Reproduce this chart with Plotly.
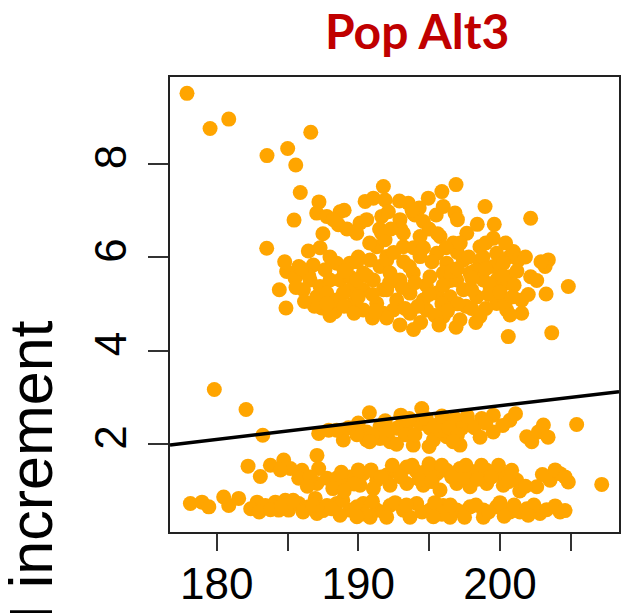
import plotly.graph_objects as go

# ---- data ----
x_vals = [
    177.90, 179.53, 180.85, 186.64, 183.55, 185.01, 185.58, 185.90, 187.22, 185.46,
    183.53, 186.47, 184.94, 185.53, 184.42, 184.89, 187.06, 187.77, 188.71, 188.59,
    188.24, 190.48, 191.06, 190.12, 189.89, 190.59, 191.65, 191.77, 191.89, 191.65,
    191.30, 190.83, 186.82, 187.65, 188.47, 189.41, 186.59, 186.12, 187.30, 187.06,
    187.42, 188.35, 188.47, 188.00, 188.71, 189.41, 189.41, 189.65, 190.35, 190.35,
    190.35, 191.06, 191.53, 191.77, 191.30, 191.77, 187.77, 188.94, 189.89, 192.01,
    191.89,
    196.90, 194.94, 196.00, 196.83, 198.95, 193.53, 192.12, 192.94, 194.59, 193.88,
    197.66, 199.53, 195.77, 193.18, 194.36, 196.71, 198.59, 200.71, 199.77, 192.01,
    193.18, 194.36, 195.54, 196.24, 197.42, 198.59, 199.53, 192.24, 192.94, 193.88,
    195.06, 196.00, 196.95, 197.89, 198.83, 199.77, 200.71, 192.01, 192.71, 193.65,
    194.59, 195.54, 196.48, 197.42, 198.36, 199.30, 199.77, 200.48, 192.47, 193.65,
    194.83, 196.00, 197.18, 192.94, 198.59, 200.59,
    193.20, 194.80, 195.90, 197.00, 198.00, 193.90, 195.00, 196.50, 197.60, 194.20,
    202.17, 200.95, 200.24, 201.30, 203.42, 203.19, 202.17, 200.36, 204.83, 203.26,
    200.36, 201.54, 201.54, 200.71, 203.66,
    # extra points in the dense upper cluster
    190.0, 190.8, 191.5, 192.5, 193.0, 193.6, 194.0, 194.6, 195.2, 195.6,
    196.2, 196.6, 197.2, 197.8, 198.2, 198.8, 199.2, 199.0, 198.0, 197.0,
    196.3, 195.4, 194.4, 193.3, 192.0, 191.0, 190.6, 189.9, 189.0, 188.0,
    187.3, 186.5, 185.8, 186.9, 188.0, 189.0, 190.0, 191.0, 192.2, 193.1,
    194.0, 195.0, 196.0, 197.0, 198.0, 199.0, 200.0, 200.2, 201.0, 201.2,
    202.0, 201.8, 199.6, 198.4, 197.0, 195.5, 194.3, 192.9, 192.3, 189.2,
    189.0, 187.5, 195.9, 193.8, 199.0, 200.4, 198.3, 196.9, 195.7, 193.9,
    191.2, 189.7, 187.8, 186.2, 185.6, 186.0, 184.8, 200.9, 202.6, 202.9,
    # lower region
    203.07, 205.42, 201.89, 202.25, 202.71, 207.19, 200.48, 201.19, 202.60, 203.54,
    204.25, 204.83, 200.24, 201.42, 202.83, 204.25,
    179.83, 182.07, 183.25, 182.21, 183.08, 183.79, 184.73, 185.20, 186.02, 185.79,
    187.08, 187.20, 187.08, 187.79, 187.20, 187.91, 178.14, 178.96, 179.44, 180.49,
    180.85, 181.55, 182.85, 183.43, 184.14, 184.84, 185.08, 185.79, 186.50, 186.96,
    187.08, 187.79, 184.38,
    190.78, 193.00, 194.48, 196.83, 198.71, 199.53, 200.71, 199.53, 190.59, 191.53,
    192.71, 193.42, 194.36, 195.06, 196.00, 197.30, 197.89, 190.59, 192.24, 193.88,
    195.30, 196.24, 197.18, 188.94, 188.47, 191.53, 195.77,
    188.47, 189.41, 190.35, 191.30, 192.01, 192.71, 193.42, 194.12, 194.83, 195.54,
    196.24, 197.18, 198.12, 199.07, 200.01, 200.83, 188.94, 190.12, 191.06, 192.24,
    193.42, 194.59, 195.77, 196.95, 197.89, 199.07, 200.24,
    188.47, 189.41, 190.35, 191.30, 192.24, 193.18, 194.12, 195.06, 196.00, 196.95,
    197.89, 198.83, 199.77, 200.71, 188.71, 190.83, 193.65, 196.48, 198.83,
    # extra points, bottom band
    182.4, 183.0, 183.8, 184.6, 185.4, 186.1, 186.8, 187.5, 188.1, 188.9,
    189.9, 190.5, 191.0, 191.8, 192.6, 193.4, 194.5, 195.4, 195.9, 196.5,
    197.4, 198.3, 199.2, 200.0, 201.0, 201.9, 202.4, 203.3, 203.9, 204.6,
    189.9, 192.0, 195.3, 197.5, 200.3, 202.0,
    # extra points, middle band
    188.8, 189.7, 190.0, 190.9, 191.6, 192.4, 193.0, 193.8, 194.3, 195.0,
    195.2, 195.9, 196.6, 197.5, 197.6, 198.4, 198.7, 199.4, 199.9, 200.6,
    201.4, 201.8, 203.0, 203.9, 204.6, 188.2, 189.0, 186.6, 186.4, 184.5,
    # extra points, upper lower group
    189.3, 189.9, 190.0, 191.0, 191.9, 192.2, 193.3, 193.6, 194.0, 194.8,
    195.4, 195.9, 196.4, 197.0, 197.7, 198.2, 198.6, 199.0, 200.2, 201.1,
    203.4, 190.8, 192.7, 195.0, 196.7,
]
y_vals = [
    9.50, 8.75, 8.95, 8.67, 8.17, 8.32, 7.97, 7.38, 7.18, 6.79,
    6.19, 6.13, 5.69, 5.55, 5.30, 4.91, 6.94, 6.87, 6.97, 6.69,
    6.80, 7.19, 7.26, 6.73, 6.51, 6.80, 6.87, 7.51, 7.22, 6.51,
    6.22, 5.94, 5.83, 5.73, 5.87, 5.87, 5.51, 5.30, 5.37, 5.15,
    4.91, 4.83, 5.08, 5.51, 5.51, 5.58, 5.30, 5.01, 4.87, 5.30,
    5.66, 5.51, 5.80, 5.30, 5.01, 4.80, 5.23, 5.23, 5.51, 6.01,
    6.37,
    7.55, 7.26, 7.08, 6.94, 7.08, 7.15, 6.97, 6.80, 6.76, 6.94,
    6.51, 6.40, 6.44, 6.51, 6.44, 6.30, 6.22, 6.01, 6.08, 5.94,
    6.22, 6.01, 6.08, 5.87, 5.94, 5.87, 5.80, 5.66, 5.51, 5.66,
    5.58, 5.66, 5.51, 5.66, 5.51, 5.51, 5.58, 5.30, 5.08, 5.23,
    5.08, 5.23, 5.15, 5.30, 5.15, 5.37, 5.01, 4.87, 4.87, 4.80,
    4.87, 4.73, 4.66, 4.55, 4.73, 4.30,
    5.90, 5.40, 5.00, 6.10, 5.30, 6.20, 6.60, 5.50, 4.95, 4.95,
    6.83, 6.12, 5.87, 5.94, 5.94, 5.80, 5.58, 5.44, 5.37, 5.21,
    5.01, 5.08, 4.80, 4.76, 4.38,
    # extra points in the dense upper cluster
    6.00, 6.30, 6.60, 6.10, 6.60, 5.80, 6.90, 6.20, 5.90, 6.50,
    6.20, 5.70, 6.30, 6.00, 5.70, 6.00, 5.20, 4.90, 4.90, 5.00,
    4.85, 4.75, 4.60, 4.90, 4.70, 5.20, 5.60, 5.90, 5.70, 6.00,
    6.20, 5.60, 5.80, 4.95, 4.75, 4.95, 5.15, 4.70, 5.45, 5.35,
    5.45, 5.20, 5.40, 5.75, 5.55, 5.75, 5.25, 5.60, 5.40, 5.70,
    5.20, 6.00, 6.70, 6.70, 6.80, 6.90, 7.05, 7.20, 6.60, 6.60,
    7.00, 6.50, 7.40, 7.00, 6.30, 6.30, 4.60, 4.50, 4.55, 4.45,
    4.85, 4.80, 5.00, 5.05, 5.35, 5.75, 5.90, 5.15, 5.50, 5.90,
    # lower region
    2.41, 2.42, 2.16, 2.05, 2.26, 1.14, 1.34, 1.23, 1.09, 1.23,
    1.37, 1.19, 0.59, 0.55, 0.52, 0.55,
    3.17, 2.74, 2.19, 1.53, 1.31, 1.55, 1.66, 1.48, 1.44, 1.27,
    1.76, 1.48, 1.16, 1.27, 2.23, 2.30, 0.73, 0.76, 0.66, 0.87,
    0.69, 0.84, 0.76, 0.69, 0.76, 0.80, 0.59, 0.73, 0.66, 0.84,
    0.52, 0.69, 0.59,
    2.67, 2.62, 2.76, 2.55, 2.55, 2.62, 2.51, 2.26, 2.26, 2.37,
    2.34, 2.41, 2.44, 2.34, 2.44, 2.34, 2.41, 2.09, 2.05, 1.98,
    2.09, 2.16, 1.98, 2.09, 2.30, 2.12, 2.30,
    1.27, 1.30, 1.37, 1.23, 1.34, 1.41, 1.51, 1.41, 1.44, 1.37,
    1.44, 1.48, 1.41, 1.44, 1.37, 1.44, 1.12, 1.12, 1.05, 1.12,
    1.16, 1.12, 1.02, 1.16, 1.09, 1.16, 1.12,
    0.73, 0.59, 0.73, 0.59, 0.69, 0.59, 0.73, 0.59, 0.69, 0.59,
    0.66, 0.59, 0.66, 0.55, 0.48, 0.44, 0.44, 0.44, 0.44,
    # extra points, bottom band
    0.62, 0.55, 0.60, 0.68, 0.80, 0.55, 0.70, 0.58, 0.62, 0.80,
    0.66, 0.50, 0.78, 0.55, 0.75, 0.70, 0.55, 0.75, 0.50, 0.70,
    0.55, 0.70, 0.55, 0.75, 0.70, 0.62, 0.70, 0.60, 0.68, 0.58,
    0.45, 0.44, 0.45, 0.44, 0.46, 0.48,
    # extra points, middle band
    1.40, 1.15, 1.45, 1.45, 1.30, 1.55, 1.30, 1.55, 1.25, 1.58,
    1.20, 1.55, 1.30, 1.30, 1.55, 1.25, 1.55, 1.30, 1.55, 1.20,
    1.00, 1.10, 1.35, 1.45, 1.30, 1.05, 1.00, 1.30, 1.10, 1.45,
    # extra points, upper lower group
    2.35, 2.20, 2.45, 2.20, 2.50, 2.30, 2.20, 2.55, 2.20, 2.55,
    2.40, 2.60, 2.35, 2.20, 2.60, 2.35, 2.15, 2.45, 2.40, 2.65,
    2.15, 2.05, 2.00, 1.95, 2.05,
]

reg_intercept = -4.38
reg_slope = 0.036

x_tickvals = [180, 185, 190, 195, 200, 205]
x_ticktext = ["180", "", "190", "", "200", ""]
y_tickvals = [2, 4, 6, 8]
y_ticktext = ["2", "4", "6", "8"]

title_text = "Pop Alt3"
ylabel_text = "DBH increment"

# ---- figure ----
X_RANGE = [176.70, 208.41]
Y_RANGE = [0.122, 9.85]

fig = go.Figure()
fig.add_trace(go.Scatter(
    x=x_vals, y=y_vals, mode="markers",
    marker=dict(color="#FFA500", size=15, line=dict(width=0)),
    hoverinfo="skip", showlegend=False,
))
fig.add_trace(go.Scatter(
    x=X_RANGE,
    y=[reg_intercept + reg_slope * v for v in X_RANGE],
    mode="lines", line=dict(color="black", width=3.5),
    hoverinfo="skip", showlegend=False,
))

L, R, T, B = 170, 7, 77, 81
W, H = 626, 613
pw = W - L - R
ph = H - T - B

fig.update_layout(
    width=W, height=H,
    margin=dict(l=L, r=R, t=T, b=B, pad=0, autoexpand=False),
    paper_bgcolor="white", plot_bgcolor="white",
    showlegend=False,
    xaxis=dict(
        range=X_RANGE, showgrid=False, zeroline=False, automargin=False,
        showline=True, mirror=True, linecolor="#222", linewidth=1.5,
        ticks="outside", ticklen=17, tickwidth=1.5, tickcolor="#333",
        tickvals=x_tickvals, ticktext=x_ticktext,
        tickfont=dict(family="Liberation Sans", size=44, color="black"),
        ticklabelstandoff=-5,
    ),
    yaxis=dict(
        range=Y_RANGE, showgrid=False, zeroline=False, automargin=False,
        showline=True, mirror=True, linecolor="#222", linewidth=1.5,
        ticks="outside", ticklen=20, tickwidth=1.5, tickcolor="#333",
        tickvals=y_tickvals, ticktext=y_ticktext, tickangle=-90,
        tickfont=dict(family="Liberation Sans", size=44, color="black"),
        ticklabelstandoff=5,
    ),
    annotations=[
        dict(text="<b>" + title_text + "</b>", xref="paper", yref="paper",
             x=(416.5 - L) / pw, y=1 + (T - 31) / ph,
             xanchor="center", yanchor="middle", showarrow=False,
             font=dict(family="Lato", size=48, color="#C00000")),
        dict(text=ylabel_text, xref="paper", yref="paper",
             x=(31 - L) / pw, y=(H - B - 527) / ph,
             xanchor="center", yanchor="middle", showarrow=False,
             textangle=-90,
             font=dict(family="Liberation Sans", size=61, color="black")),
    ],
)

fig.write_html("out.html", config={"displayModeBar": False},
               post_script="document.body.style.margin='0';")
